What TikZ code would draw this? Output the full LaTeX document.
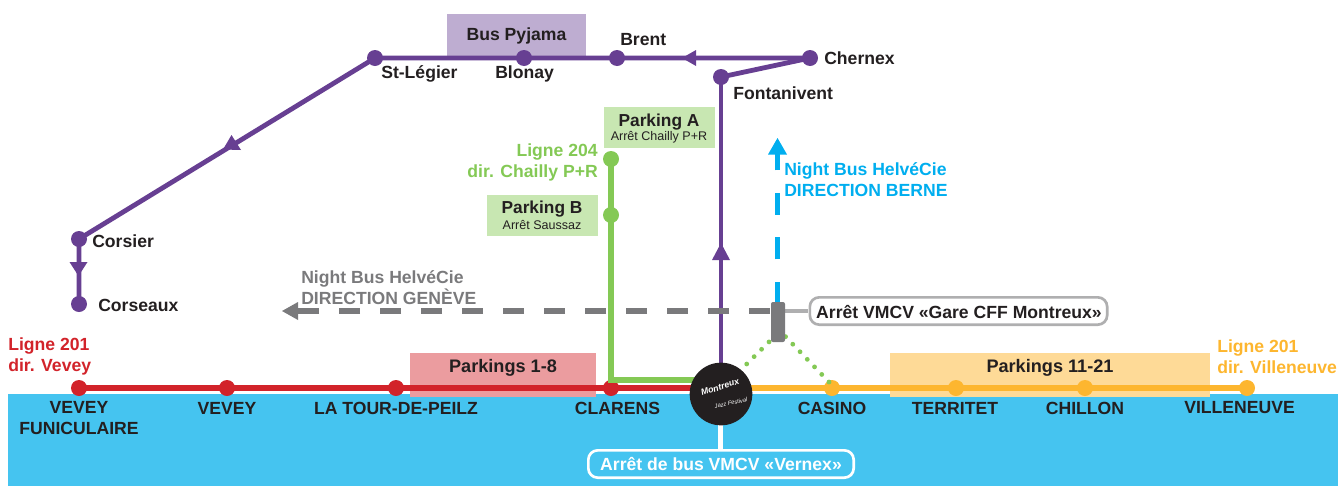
\documentclass[tikz,border=0pt]{standalone}
\usepackage{fontspec}
\setmainfont{Liberation Sans}
\usetikzlibrary{arrows.meta}
\definecolor{lake}{HTML}{45C4F0}
\definecolor{purp}{HTML}{673F92}
\definecolor{redl}{HTML}{D2232A}
\definecolor{grnl}{HTML}{84C955}
\definecolor{yell}{HTML}{FDB62F}
\definecolor{greyl}{HTML}{7A7A7C}
\definecolor{blue2}{HTML}{00AEEF}
\definecolor{ink}{HTML}{231F20}
\tikzset{
  stn/.style={circle,fill=#1,inner sep=0pt,minimum size=12pt},
  lbl/.style={font=\bfseries\fontsize{13.2}{15.4}\selectfont,text=ink,inner sep=0pt,align=center},
  col/.style={font=\bfseries\fontsize{13.2}{15.6}\selectfont,inner sep=0pt,align=center},
  sub/.style={font=\fontsize{9.4}{11}\selectfont,text=ink,inner sep=0pt},
  line/.style={line width=3.6pt,#1},
  dots/.style={grnl,line width=3.6pt,line cap=round,dash pattern=on 0pt off 7.85pt},
}
\begin{document}
\begin{tikzpicture}[x=0.75pt,y=-0.75pt]
\useasboundingbox (0,0) rectangle (1338,486);
% lake
\fill[lake] (8,394) rectangle (1338,486);
% coloured bands
\fill[fill=purp!50!white,fill opacity=.85] (447,14) rectangle (586,58);
\fill[fill=redl!45!white] (410,353) rectangle (596,397);
\fill[fill=yell!50!white] (890,353) rectangle (1210,397);
\fill[fill=grnl!45!white] (604,107) rectangle (715,148);
\fill[fill=grnl!45!white] (487,195) rectangle (598,236);
% band labels
\node[lbl] (tbp) at (516.5,36) {Bus Pyjama};
\node[lbl,font=\bfseries\fontsize{13.6}{15}\selectfont] (tp18) at (503,368) {Parkings 1-8};
\node[lbl,font=\bfseries\fontsize{13.6}{15}\selectfont] (tp11) at (1050,368) {Parkings 11-21};
\node[lbl,font=\bfseries\fontsize{13}{15}\selectfont] (tpa) at (659,122.5) {Parking A};
\node[sub] (tpa2) at (659,137) {Arrêt Chailly P+R};
\node[lbl,font=\bfseries\fontsize{13}{15}\selectfont] (tpb) at (542,209.5) {Parking B};
\node[sub] (tpb2) at (542,225) {Arrêt Saussaz};
% stations
\node[stn=purp] (corseaux) at (79,304) {};
\node[stn=purp] (corsier) at (79,239) {};
\node[stn=purp] (stleg) at (375,58) {};
\node[stn=purp] (blonay) at (524,58) {};
\node[stn=purp] (brent) at (617,58) {};
\node[stn=purp] (chernex) at (810,58) {};
\node[stn=purp] (fonta) at (721,77) {};
\node[stn=grnl] (lig204) at (611,159) {};
\node[stn=grnl] (pkb) at (611,215) {};
\node[stn=redl] (vf) at (79,388) {};
\node[stn=redl] (ve) at (227,388) {};
\node[stn=redl] (lt) at (396,388) {};
\node[stn=redl] (cl) at (611,388) {};
\node[stn=yell] (ca) at (832,388) {};
\node[stn=yell] (te) at (956,388) {};
\node[stn=yell] (ch) at (1085,388) {};
\node[stn=yell] (vi) at (1247,388) {};
\coordinate (vern) at (721,394);
\coordinate (corn) at (611,380);
\coordinate (cornE) at (721,380);
% lines
\draw[line=purp] (fonta.center) -- (vern);
\draw[line=purp] (chernex.center) -- (fonta.center);
\draw[line=purp] (chernex.center) -- (brent.center) -- (blonay.center) -- (stleg.center) -- (corsier.center) -- (corseaux.center);
\draw[line=grnl,line width=3.8pt] (lig204.center) -- (pkb.center) -- (corn) -- (cornE);
\draw[line=redl,line width=4pt] (vf.center) -- (ve.center) -- (lt.center) -- (cl.center) -- (vern |- cl);
\draw[line=yell,line width=4pt] (vern |- ca) -- (ca.center) -- (te.center) -- (ch.center) -- (vi.center);
% arrowheads on purple
\fill[purp] (682,58) -- (696,50) -- (696,66) -- cycle;
\fill[purp] (231.5,135) -- (223,149.5) -- (241,150) -- cycle;
\fill[purp] (78.5,276) -- (69.5,262) -- (87.5,262) -- cycle;
\fill[purp] (721,243) -- (712,260) -- (730,260) -- cycle;
% dotted links
\draw[dots] (746.7,364) -- (778,333);
\draw[dots] (829,382) -- (784,335);
% night buses
\coordinate (nbE) at (777.5,154);
\coordinate (nbG) at (297,311);
\draw[blue2,line width=4.2pt,dash pattern=on 16.5pt off 16.9pt] (777.5,304) -- (nbE);
\fill[blue2] (777.5,138) -- (768,154.5) -- (787,154.5) -- cycle;
\draw[greyl,line width=4.2pt,dash pattern=on 15.75pt off 15pt] (770,311) -- (nbG);
\fill[greyl] (282,311) -- (298,302) -- (298,320) -- cycle;
\draw[greyl!60!white,line width=3pt] (785,311) -- (808,311);
\draw[white,line width=3.5pt] (720.5,420) -- (720.5,450);
% stop bar
\node[fill=greyl,rounded corners=1.5pt,minimum width=10.5pt,minimum height=30pt,inner sep=0pt] (bar) at (778,322) {};
% boxes
\node[draw=greyl!60!white,line width=2pt,rounded corners=7pt,fill=white,minimum width=223pt,minimum height=20.5pt,inner sep=0pt] (gare) at (958.5,311) {};
\node[lbl] at (959,312) {Arrêt VMCV «Gare CFF Montreux»};
\node[draw=white,line width=2pt,rounded corners=7pt,fill=lake,minimum width=199pt,minimum height=20.5pt,inner sep=0pt] (vbox) at (721,464) {};
\node[lbl,text=white] at (721,464.5) {Arrêt de bus VMCV «Vernex»};
% logo
\node[circle,fill=ink,minimum size=47pt,inner sep=0pt] (logo) at (721,394) {};
\node[text=white,rotate=18,font=\itshape\bfseries\fontsize{6.6}{8}\selectfont,inner sep=0pt] at (720,387) {Montreux};
\node[text=white,rotate=12,font=\itshape\fontsize{4.3}{5}\selectfont,inner sep=0pt] at (731,403) {Jazz Festival};
% station labels
\node[lbl,anchor=west] at (98,305) {Corseaux};
\node[lbl,anchor=west] at (92,241) {Corsier};
\node[lbl,anchor=west] at (381,74) {St-Légier};
\node[lbl,anchor=west] at (495,74) {Blonay};
\node[lbl,anchor=west] at (620,40) {Brent};
\node[lbl,anchor=west] at (824,58) {Chernex};
\node[lbl,anchor=west] at (733,93) {Fontanivent};
\node[col,text=grnl,anchor=east,align=right] at (598,162.5) {Ligne 204\\dir. Chailly P+R};
\node[col,text=redl,anchor=west,align=left] at (8,356.5) {Ligne 201\\dir. Vevey};
\node[col,text=yell,anchor=west,align=left] at (1217,356.5) {Ligne 201\\dir. Villeneuve};
\node[col,text=blue2,anchor=west,align=left] at (784,179.5) {Night Bus HelvéCie\\DIRECTION BERNE};
\node[col,text=greyl,anchor=west,align=left] at (301,288) {Night Bus HelvéCie\\DIRECTION GENÈVE};
\node[lbl] at (79,418) {VEVEY\\FUNICULAIRE};
\node[lbl] at (227,408) {VEVEY};
\node[lbl] at (396,408) {LA TOUR-DE-PEILZ};
\node[lbl] at (617.5,408) {CLARENS};
\node[lbl] at (832,408) {CASINO};
\node[lbl] at (955,408) {TERRITET};
\node[lbl] at (1085,408) {CHILLON};
\node[lbl] at (1239.5,408) {VILLENEUVE};
\end{tikzpicture}
\end{document}
